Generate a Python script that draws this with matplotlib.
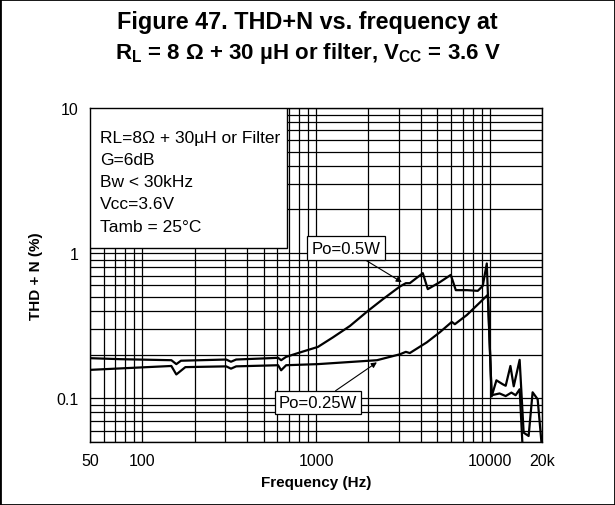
"""THD+N vs frequency chart (Figure 47)."""

import matplotlib

matplotlib.use("Agg")

import numpy as np  # noqa: E402
from matplotlib import pyplot as plt  # noqa: E402
from matplotlib.patches import Rectangle  # noqa: E402
from matplotlib.ticker import FixedLocator, LogLocator, NullFormatter  # noqa: E402

# Po = 0.5 W curve
freq_05w = [50, 75, 147, 157, 167, 304, 324, 347, 605, 630, 673, 809, 1026,
            1252, 1568, 1990, 2428, 3040, 3290, 3467, 4120, 4400, 5160, 5970,
            6380, 7390, 8540, 9120, 9620, 10260, 10930, 11880, 12360, 13160,
            13750, 14870, 15680, 16750, 17660, 18880, 20000]
thd_05w = [0.189, 0.186, 0.183, 0.172, 0.1815, 0.185, 0.1786, 0.185, 0.190,
           0.183, 0.193, 0.207, 0.226, 0.263, 0.315, 0.400, 0.482, 0.589,
           0.621, 0.621, 0.728, 0.565, 0.631, 0.708, 0.556, 0.556, 0.550,
           0.595, 0.849, 0.103, 0.133, 0.125, 0.122, 0.167, 0.121, 0.184,
           0.058, 0.055, 0.110, 0.0985, 0.045]

# Po = 0.25 W curve
freq_025w = [50, 147, 157, 177, 304, 324, 347, 605, 630, 673, 1026, 2244,
             3040, 3290, 3467, 4345, 5160, 6050, 6300, 7390, 9750, 10260,
             11400, 12360, 13330, 14100, 14870, 15480]
thd_025w = [0.157, 0.167, 0.146, 0.164, 0.166, 0.160, 0.166, 0.169, 0.156,
            0.169, 0.172, 0.183, 0.201, 0.209, 0.205, 0.243, 0.285, 0.336,
            0.324, 0.375, 0.516, 0.105, 0.108, 0.1036, 0.1095, 0.105, 0.1154,
            0.045]

x_ticks = [50, 100, 1000, 10000, 20000]
x_labels = ["50", "100", "1000", "10000", "20k"]
y_ticks = [0.1, 1, 10]
y_labels = ["0.1", "1", "10"]

conditions = ["RL=8Ω + 30µH or Filter", "G=6dB", "Bw < 30kHz", "Vcc=3.6V",
              "Tamb = 25°C"]

plt.rcParams["font.family"] = ["Liberation Sans", "DejaVu Sans"]
plt.rcParams["mathtext.fontset"] = "custom"
plt.rcParams["mathtext.rm"] = "Liberation Sans"
plt.rcParams["mathtext.bf"] = "Liberation Sans:bold"

fig = plt.figure(figsize=(6.15, 5.06), dpi=100)
ax = fig.add_axes([90 / 615, 63 / 506, 452 / 615, 334 / 506])

ax.set_xscale("log")
ax.set_yscale("log")
ax.set_xlim(50, 20000)
ax.set_ylim(0.05, 10)

ax.plot(freq_05w, thd_05w, color="black", lw=1.6, zorder=3)
ax.plot(freq_025w, thd_025w, color="black", lw=1.6, zorder=3)

ax.xaxis.set_major_locator(FixedLocator(x_ticks))
ax.set_xticklabels(x_labels)
ax.yaxis.set_major_locator(FixedLocator(y_ticks))
ax.set_yticklabels(y_labels)
ax.xaxis.set_minor_locator(LogLocator(base=10, subs=np.arange(1, 10)))
ax.yaxis.set_minor_locator(LogLocator(base=10, subs=np.arange(1, 10)))
ax.xaxis.set_minor_formatter(NullFormatter())
ax.yaxis.set_minor_formatter(NullFormatter())
ax.grid(which="both", color="black", lw=0.9, zorder=1)
ax.set_axisbelow(True)
ax.tick_params(which="both", length=0, labelsize=11.5, colors="black")
ax.tick_params(axis="x", pad=8)
ax.tick_params(axis="y", pad=8)
for spine in ax.spines.values():
    spine.set_linewidth(1.0)

ax.set_xlabel("Frequency (Hz)", fontsize=11, fontweight="bold", labelpad=5)
ax.set_ylabel("THD + N (%)", fontsize=11, fontweight="bold", labelpad=10)

# conditions box in the upper-left corner
ax.add_patch(Rectangle((0, 0.581), 0.436, 0.419, transform=ax.transAxes,
                       facecolor="white", edgecolor="black", lw=1.0, zorder=4))
ax.text(0.022, 0.935, "\n".join(conditions), transform=ax.transAxes,
        ha="left", va="top", fontsize=12.5, linespacing=1.6, zorder=5)

arrow = dict(arrowstyle="-|>", color="black", lw=0.8, mutation_scale=8,
             shrinkA=0, shrinkB=0)
box = dict(boxstyle="square,pad=0.25", facecolor="white", edgecolor="black",
           lw=0.9)
ax.annotate("Po=0.5W", xy=(3120, 0.631), xytext=(1486, 1.083),
            ha="center", va="center", fontsize=12, bbox=box,
            arrowprops=arrow, zorder=6)
ax.annotate("Po=0.25W", xy=(2242, 0.177), xytext=(1027, 0.0931),
            ha="center", va="center", fontsize=12, bbox=box,
            arrowprops=arrow, zorder=6)

fig.text(0.5, 0.955, "Figure 47. THD+N vs. frequency at", ha="center",
         va="center", fontsize=16.8, fontweight="bold")
fig.text(0.5, 0.895,
         r"R$_\mathbf{L}$ = 8 Ω + 30 µH or filter, V$_\mathbf{CC}$ = 3.6 V",
         ha="center", va="center", fontsize=16, fontweight="bold")

fig.patches.append(Rectangle((0, 0), 1, 1, transform=fig.transFigure,
                             fill=False, edgecolor="black", lw=2.0))

fig.savefig("out.png", dpi=100)
plt.close(fig)
